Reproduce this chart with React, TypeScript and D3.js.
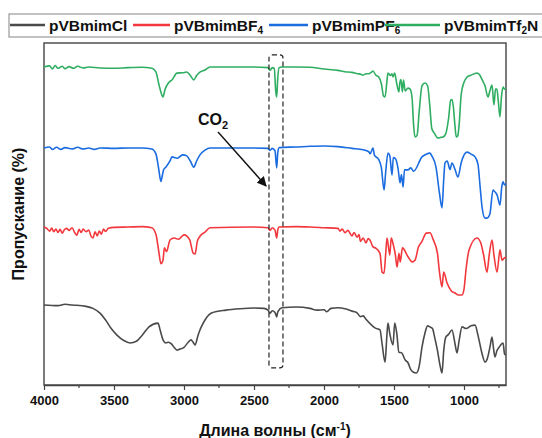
import React, { useEffect, useRef } from "react";
import * as d3 from "d3";

// legend / series info
const seriesBase = ["pVBmimCl", "pVBmimBF", "pVBmimPF", "pVBmimTf"];
const seriesSub = ["", "4", "6", "2"];
const seriesTail = ["", "", "", "N"];
const seriesColors = ["#4a4a4a", "#f2383c", "#1a6ce0", "#2fae62"];

const majorTicks = [4000, 3500, 3000, 2500, 2000, 1500, 1000];
const minorTicks = [3750, 3250, 2750, 2250, 1750, 1250, 750];

// [wavenumber, transmittance (stacked, a.u.)]
const clSpectrum: [number, number][] = [
  [4000, 23.4], [3900, 23.2], [3850, 23.6], [3800, 23.4], [3700, 23.0], [3650, 22.4],
  [3600, 21.0], [3560, 19.0], [3520, 16.5], [3479, 14.6], [3430, 13.0], [3386, 12.3],
  [3340, 12.8], [3300, 14.5], [3250, 17.0], [3186, 18.1], [3170, 16.0], [3150, 13.2],
  [3130, 12.3], [3110, 12.5], [3090, 12.0], [3070, 11.0], [3050, 10.2], [3030, 10.5],
  [3000, 11.0], [2970, 12.5], [2950, 13.2], [2935, 12.5], [2921, 11.7], [2900, 14.5],
  [2886, 16.1], [2870, 17.5], [2850, 19.0], [2800, 21.1], [2700, 21.9], [2600, 22.3],
  [2500, 22.5], [2430, 22.4], [2400, 21.9], [2386, 21.0], [2370, 21.7], [2350, 21.2],
  [2338, 19.9], [2330, 21.4], [2300, 22.6], [2200, 22.8], [2100, 22.4], [2050, 21.9],
  [2000, 22.0], [1980, 21.4], [1950, 22.4], [1900, 22.6], [1850, 22.3], [1800, 21.6],
  [1764, 21.1], [1740, 20.0], [1720, 20.2], [1700, 19.2], [1660, 17.5], [1636, 16.7],
  [1600, 16.1], [1585, 12.0], [1564, 6.7], [1550, 15.0], [1543, 18.1], [1530, 15.0],
  [1507, 11.7], [1495, 18.1], [1480, 15.0], [1465, 9.6], [1445, 9.4], [1420, 7.3],
  [1400, 6.5], [1380, 4.5], [1364, 3.8], [1340, 3.5], [1320, 5.5], [1300, 11.1],
  [1280, 15.0], [1260, 17.3], [1243, 17.0], [1225, 16.5], [1210, 14.0], [1190, 10.2],
  [1170, 5.5], [1157, 3.5], [1145, 10.0], [1130, 14.0], [1110, 14.8], [1086, 16.1],
  [1064, 12.0], [1050, 9.4], [1035, 13.0], [1014, 17.0], [985, 16.5], [950, 17.3],
  [921, 17.5], [900, 14.5], [870, 9.0], [850, 6.7], [835, 7.5], [815, 11.0],
  [800, 14.0], [790, 11.0], [779, 8.2], [765, 10.0], [750, 11.0], [721, 12.3],
  [710, 9.0], [700, 8.8],
];

const bf4Spectrum: [number, number][] = [
  [4000, 46.2], [3980, 45.8], [3960, 45.0], [3945, 45.9], [3930, 44.8], [3915, 45.6],
  [3900, 44.6], [3885, 45.5], [3870, 44.4], [3855, 45.4], [3840, 45.8], [3820, 45.2],
  [3800, 46.0], [3780, 44.5], [3765, 43.8], [3750, 45.5], [3735, 44.6], [3720, 45.6],
  [3700, 44.8], [3680, 45.3], [3665, 43.6], [3650, 43.0], [3635, 44.8], [3620, 43.6],
  [3605, 45.0], [3590, 44.1], [3575, 45.6], [3560, 44.9], [3540, 45.8], [3500, 46.1],
  [3400, 46.2], [3300, 46.3], [3230, 46.0], [3200, 44.0], [3180, 39.0], [3165, 35.5],
  [3150, 36.5], [3140, 40.1], [3125, 39.0], [3100, 42.4], [3070, 43.0], [3040, 42.6],
  [3000, 43.9], [2960, 42.5], [2935, 38.6], [2921, 38.3], [2905, 42.0], [2886, 43.5],
  [2850, 44.7], [2814, 46.0], [2500, 46.2], [2400, 46.0], [2386, 45.2], [2370, 46.0],
  [2350, 45.3], [2338, 43.0], [2330, 45.4], [2320, 46.2], [2200, 46.3], [2100, 46.2],
  [2000, 46.0], [1900, 45.8], [1886, 45.0], [1870, 45.6], [1850, 44.5], [1830, 45.2],
  [1800, 43.6], [1785, 44.6], [1764, 43.2], [1750, 44.0], [1740, 42.0], [1720, 43.0],
  [1700, 41.5], [1685, 42.8], [1671, 42.3], [1650, 40.4], [1630, 40.0], [1600, 38.5],
  [1585, 33.0], [1571, 32.7], [1560, 38.0], [1550, 43.0], [1530, 38.0], [1520, 43.0],
  [1505, 41.0], [1490, 38.0], [1478, 34.5], [1465, 38.5], [1455, 36.0], [1440, 40.1],
  [1400, 37.5], [1370, 36.0], [1350, 36.5], [1325, 40.4], [1300, 42.0], [1270, 44.4],
  [1243, 44.5], [1220, 42.5], [1190, 38.6], [1175, 33.0], [1157, 28.7], [1145, 33.0],
  [1121, 29.8], [1090, 27.5], [1064, 26.9], [1040, 26.3], [1014, 26.3], [1000, 28.0],
  [985, 34.0], [964, 39.5], [907, 43.0], [880, 41.5], [860, 38.0], [836, 33.0],
  [820, 38.0], [800, 42.4], [786, 38.0], [764, 33.0], [743, 39.5], [728, 36.5],
  [715, 37.0], [700, 37.5],
];

const pf6Spectrum: [number, number][] = [
  [4000, 69.3], [3960, 69.6], [3940, 68.9], [3910, 69.5], [3880, 68.9], [3850, 69.4],
  [3800, 69.0], [3760, 69.5], [3720, 69.0], [3680, 69.3], [3640, 68.9], [3600, 69.3],
  [3500, 69.2], [3400, 69.3], [3300, 69.3], [3230, 69.0], [3200, 67.5], [3180, 63.0],
  [3165, 59.5], [3157, 60.8], [3145, 63.0], [3130, 63.7], [3100, 65.5], [3086, 66.7],
  [3050, 66.3], [3010, 67.3], [2980, 67.0], [2955, 65.5], [2930, 63.7], [2910, 65.5],
  [2886, 67.3], [2850, 68.7], [2814, 69.3], [2500, 69.3], [2400, 69.2], [2386, 68.6],
  [2370, 69.2], [2350, 68.5], [2338, 63.5], [2330, 68.0], [2320, 69.4], [2200, 69.6],
  [2100, 69.8], [2000, 69.9], [1900, 69.7], [1800, 69.2], [1720, 68.8], [1680, 68.2],
  [1671, 67.6], [1650, 69.3], [1640, 67.2], [1610, 66.0], [1590, 63.5], [1571, 57.0],
  [1560, 62.0], [1543, 67.8], [1530, 67.0], [1514, 61.4], [1505, 66.5], [1490, 66.2],
  [1470, 63.0], [1457, 59.1], [1447, 61.5], [1435, 57.9], [1425, 62.9], [1400, 62.9],
  [1380, 63.5], [1360, 62.5], [1300, 66.7], [1270, 67.5], [1243, 67.8], [1230, 67.0],
  [1200, 63.7], [1175, 56.0], [1157, 51.8], [1145, 60.0], [1136, 64.9], [1120, 65.5],
  [1100, 63.0], [1086, 64.9], [1064, 63.0], [1043, 60.8], [1020, 65.0], [979, 68.1],
  [950, 67.5], [921, 66.7], [900, 64.5], [885, 58.0], [871, 52.0], [850, 48.8],
  [836, 48.8], [815, 50.0], [793, 57.0], [780, 56.5], [764, 55.6], [743, 52.6],
  [730, 58.0], [721, 59.4], [710, 58.5], [700, 58.8],
];

const tf2nSpectrum: [number, number][] = [
  [4000, 93.0], [3960, 93.3], [3940, 92.4], [3920, 93.4], [3900, 92.6], [3870, 93.2],
  [3850, 92.5], [3820, 93.1], [3790, 92.6], [3760, 93.2], [3720, 92.7], [3680, 93.0],
  [3600, 92.7], [3500, 92.6], [3400, 92.8], [3300, 92.9], [3230, 92.6], [3200, 91.5],
  [3180, 88.0], [3160, 85.0], [3150, 84.2], [3135, 86.5], [3110, 88.4], [3086, 89.2],
  [3050, 91.2], [3010, 91.3], [2980, 91.5], [2955, 90.5], [2930, 89.2], [2910, 90.5],
  [2886, 91.5], [2850, 92.1], [2814, 93.0], [2700, 93.0], [2500, 93.0], [2400, 92.8],
  [2386, 92.0], [2370, 92.8], [2355, 92.5], [2345, 86.0], [2338, 84.2], [2330, 90.0],
  [2320, 92.8], [2300, 93.0], [2200, 93.0], [2100, 92.9], [2000, 92.4], [1900, 92.0],
  [1850, 91.6], [1800, 91.4], [1760, 91.0], [1740, 90.9], [1721, 90.6], [1700, 91.0],
  [1680, 91.0], [1660, 91.5], [1650, 91.8], [1630, 90.6], [1610, 90.1], [1590, 88.0],
  [1575, 84.5], [1564, 84.2], [1550, 89.0], [1543, 91.2], [1525, 90.5], [1515, 91.0],
  [1507, 90.1], [1495, 91.2], [1480, 88.0], [1465, 85.7], [1458, 88.5], [1450, 89.3],
  [1440, 85.7], [1432, 89.2], [1420, 86.0], [1400, 86.8], [1385, 86.5], [1371, 84.0],
  [1360, 76.0], [1350, 72.5], [1335, 73.0], [1320, 80.0], [1300, 87.5], [1279, 88.3],
  [1260, 87.5], [1245, 82.0], [1230, 75.0], [1210, 73.5], [1186, 72.2], [1165, 72.4],
  [1150, 72.5], [1130, 73.5], [1110, 78.0], [1095, 83.3], [1086, 83.5], [1075, 81.0],
  [1065, 76.0], [1055, 72.5], [1045, 72.8], [1035, 76.0], [1020, 85.0], [1000, 88.5],
  [979, 90.0], [950, 90.6], [907, 91.2], [890, 90.8], [870, 89.2], [850, 87.5],
  [829, 84.2], [815, 86.0], [800, 87.7], [786, 81.9], [775, 86.5], [765, 86.5],
  [755, 83.0], [743, 78.4], [733, 84.0], [721, 87.1], [710, 86.5], [700, 86.5],
];

const spectra = [clSpectrum, bf4Spectrum, pf6Spectrum, tf2nSpectrum];

// CO2 annotation: dashed box band + arrow
const co2Band = [2393, 2293];
const co2Range = [96.5, 5.0];

const App = () => {
  const ref = useRef<SVGSVGElement>(null);

  useEffect(() => {
    draw();
  });

  const draw = () => {
    const width = 542;
    const height = 438;
    const margin = { top: 43, right: 36, bottom: 53, left: 44 };

    const svg = d3.select(ref.current);
    svg.selectAll("*").remove();

    const font = "'Liberation Sans', Arial, sans-serif";

    const x = d3.scaleLinear().domain([4000, 700]).range([margin.left, width - margin.right]);
    const y = d3.scaleLinear().domain([0, 100]).range([height - margin.bottom, margin.top]);

    // frame
    svg
      .append("rect")
      .attr("x", margin.left)
      .attr("y", margin.top)
      .attr("width", width - margin.left - margin.right)
      .attr("height", height - margin.top - margin.bottom)
      .attr("fill", "none")
      .attr("stroke", "#444")
      .attr("stroke-width", 1.4);

    // spectra
    const line = d3
      .line<[number, number]>()
      .x((d) => x(d[0]))
      .y((d) => y(d[1]))
      .curve(d3.curveMonotoneX);

    spectra.forEach((s, i) => {
      svg
        .append("path")
        .datum(s)
        .attr("fill", "none")
        .attr("stroke", seriesColors[i])
        .attr("stroke-width", 1.6)
        .attr("stroke-linejoin", "round")
        .attr("d", line);
    });

    // x axis
    const xAxis = svg.append("g").attr("transform", `translate(0, ${height - margin.bottom})`);
    xAxis
      .call(
        d3
          .axisBottom(x)
          .tickValues(majorTicks)
          .tickSize(5)
          .tickSizeOuter(0)
          .tickPadding(6)
          .tickFormat((d) => `${d}`)
      )
      .call((g) => g.select(".domain").attr("stroke", "#444").attr("stroke-width", 1.4));
    xAxis.selectAll(".tick line").attr("stroke", "#444").attr("stroke-width", 1.2);
    xAxis
      .selectAll(".tick text")
      .attr("font-family", font)
      .attr("font-weight", "bold")
      .attr("font-size", 13)
      .attr("fill", "#111");
    minorTicks.forEach((t) => {
      xAxis
        .append("line")
        .attr("x1", x(t))
        .attr("x2", x(t))
        .attr("y1", 0)
        .attr("y2", 3)
        .attr("stroke", "#444")
        .attr("stroke-width", 1.2);
    });

    // axis titles
    const xt = svg
      .append("text")
      .attr("x", (margin.left + width - margin.right) / 2)
      .attr("y", 436)
      .attr("text-anchor", "middle")
      .attr("font-family", font)
      .attr("font-weight", "bold")
      .attr("font-size", 16)
      .attr("fill", "#111");
    xt.append("tspan").text("Длина волны (см");
    xt.append("tspan").attr("font-size", 10).attr("dy", -6).text("-1");
    xt.append("tspan").attr("dy", 6).text(")");

    svg
      .append("text")
      .attr("transform", `translate(24, ${(margin.top + height - margin.bottom) / 2}) rotate(-90)`)
      .attr("text-anchor", "middle")
      .attr("font-family", font)
      .attr("font-weight", "bold")
      .attr("font-size", 16)
      .attr("fill", "#111")
      .text("Пропускание (%)");

    // CO2 dashed box
    svg
      .append("rect")
      .attr("x", x(co2Band[0]))
      .attr("y", y(co2Range[0]))
      .attr("width", x(co2Band[1]) - x(co2Band[0]))
      .attr("height", y(co2Range[1]) - y(co2Range[0]))
      .attr("rx", 3)
      .attr("fill", "none")
      .attr("stroke", "#222")
      .attr("stroke-width", 1.2)
      .attr("stroke-dasharray", "5,3");

    // CO2 label + arrow
    svg
      .append("defs")
      .append("marker")
      .attr("id", "arrowhead")
      .attr("viewBox", "0 0 10 10")
      .attr("refX", 9)
      .attr("refY", 5)
      .attr("markerWidth", 7)
      .attr("markerHeight", 7)
      .attr("orient", "auto")
      .append("path")
      .attr("d", "M0,0L10,5L0,10z")
      .attr("fill", "#111");

    svg
      .append("line")
      .attr("x1", x(2757))
      .attr("y1", y(74))
      .attr("x2", x(2414))
      .attr("y2", y(58.2))
      .attr("stroke", "#111")
      .attr("stroke-width", 1.4)
      .attr("marker-end", "url(#arrowhead)");

    const co2 = svg
      .append("text")
      .attr("x", x(2900))
      .attr("y", y(76))
      .attr("font-family", font)
      .attr("font-weight", "bold")
      .attr("font-size", 16)
      .attr("fill", "#111");
    co2.append("tspan").text("CO");
    co2.append("tspan").attr("font-size", 11).attr("dy", 4).text("2");

    // legend
    svg
      .append("rect")
      .attr("x", 9)
      .attr("y", 14)
      .attr("width", 560)
      .attr("height", 23)
      .attr("fill", "#fff")
      .attr("stroke", "#999")
      .attr("stroke-width", 1.2);

    const legendLines = [
      [10, 45],
      [133, 170],
      [269, 308],
      [385, 440],
    ];
    seriesBase.forEach((name, i) => {
      const [a, b] = legendLines[i];
      svg
        .append("line")
        .attr("x1", a)
        .attr("x2", b)
        .attr("y1", 25)
        .attr("y2", 25)
        .attr("stroke", seriesColors[i])
        .attr("stroke-width", 2.5);
      const t = svg
        .append("text")
        .attr("x", b + 4)
        .attr("y", 31)
        .attr("font-family", font)
        .attr("font-weight", "bold")
        .attr("font-size", 15.5)
        .attr("fill", "#111");
      t.append("tspan").text(name);
      if (seriesSub[i]) t.append("tspan").attr("font-size", 10).attr("dy", 3).text(seriesSub[i]);
      if (seriesTail[i]) t.append("tspan").attr("dy", -3).text(seriesTail[i]);
    });
  };

  return (
    <svg
      ref={ref}
      width={542}
      height={438}
      style={{ position: "absolute", left: 0, top: 0, background: "#fff" }}
    />
  );
};

export default App;
